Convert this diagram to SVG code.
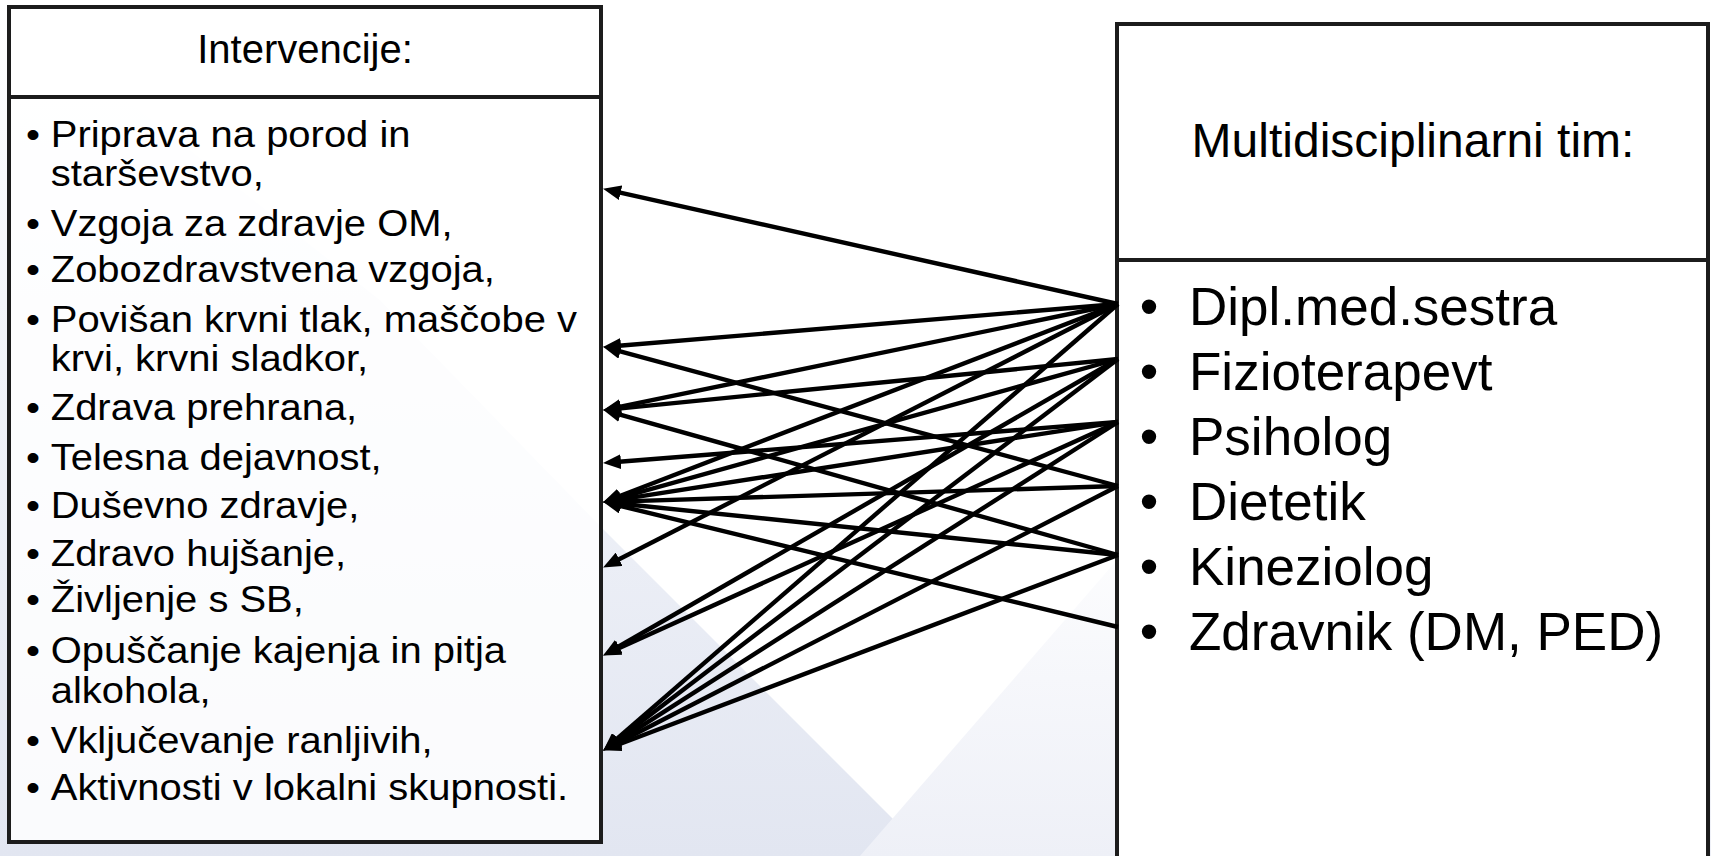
<svg xmlns="http://www.w3.org/2000/svg" width="1711" height="856" viewBox="0 0 1711 856">
<defs>
<linearGradient id="bgL" x1="0" y1="0" x2="0" y2="1">
<stop offset="0" stop-color="#ffffff"/>
<stop offset="0.35" stop-color="#f3f5fa"/>
<stop offset="1" stop-color="#e2e6f1"/>
</linearGradient>
<linearGradient id="bgR" x1="0" y1="0" x2="0" y2="1">
<stop offset="0" stop-color="#ffffff"/>
<stop offset="0.5" stop-color="#f6f7fb"/>
<stop offset="1" stop-color="#eef0f7"/>
</linearGradient>
<marker id="arr" viewBox="0 0 18 15" refX="5" refY="7.5" markerWidth="18" markerHeight="15" markerUnits="userSpaceOnUse" orient="auto">
<path d="M0,0 L18,7.5 L0,15 z" fill="#000"/>
</marker>
<style>
.box{fill:#ffffff;stroke:#1c1c1c;stroke-width:4}
.lbox{fill:#ffffff;fill-opacity:0.82;stroke:#1c1c1c;stroke-width:4}
.hd{font-family:"Liberation Sans",Arial,sans-serif;fill:#000}
.li{font-family:"Liberation Sans",Arial,sans-serif;font-size:37px;fill:#000}
.ri{font-family:"Liberation Sans",Arial,sans-serif;font-size:53px;fill:#000}
.cn line{stroke:#000;stroke-width:4.4;marker-end:url(#arr)}
</style>
</defs>
<rect x="0" y="0" width="1711" height="856" fill="#ffffff"/>
<polygon points="0,0 0,856 930,856 604,530 380,300" fill="url(#bgL)"/>
<polygon points="1711,500 1117,560 860,856 1711,856" fill="url(#bgR)"/>
<g id="intervencije">
<rect class="lbox" x="9" y="7" width="592" height="90"/>
<rect class="lbox" x="9" y="97" width="592" height="745"/>
<text class="hd" x="305" y="63" font-size="40" text-anchor="middle">Intervencije:</text>
<g transform="scale(1.08,1)">
<g class="li" text-anchor="middle">
<text x="30.5" y="147">•</text>
<text x="30.5" y="236">•</text>
<text x="30.5" y="282">•</text>
<text x="30.5" y="332">•</text>
<text x="30.5" y="420">•</text>
<text x="30.5" y="470">•</text>
<text x="30.5" y="518">•</text>
<text x="30.5" y="566">•</text>
<text x="30.5" y="612">•</text>
<text x="30.5" y="663">•</text>
<text x="30.5" y="753">•</text>
<text x="30.5" y="800">•</text>
</g>
<g class="li">
<text x="47" y="147">Priprava na porod in</text>
<text x="47" y="186">starševstvo,</text>
<text x="47" y="236">Vzgoja za zdravje OM,</text>
<text x="47" y="282">Zobozdravstvena vzgoja,</text>
<text x="47" y="332">Povišan krvni tlak, maščobe v</text>
<text x="47" y="371">krvi, krvni sladkor,</text>
<text x="47" y="420">Zdrava prehrana,</text>
<text x="47" y="470">Telesna dejavnost,</text>
<text x="47" y="518">Duševno zdravje,</text>
<text x="47" y="566">Zdravo hujšanje,</text>
<text x="47" y="612">Življenje s SB,</text>
<text x="47" y="663">Opuščanje kajenja in pitja</text>
<text x="47" y="703">alkohola,</text>
<text x="47" y="753">Vključevanje ranljivih,</text>
<text x="47" y="800">Aktivnosti v lokalni skupnosti.</text>
</g>
</g>
</g>
<g id="tim">
<rect class="box" x="1117" y="24" width="591" height="236"/>
<rect class="box" x="1117" y="260" width="591" height="620"/>
<text class="hd" x="1413" y="157" font-size="48" text-anchor="middle">Multidisciplinarni tim:</text>
<g class="ri" text-anchor="middle">
<text x="1149" y="325">•</text>
<text x="1149" y="390">•</text>
<text x="1149" y="455">•</text>
<text x="1149" y="520">•</text>
<text x="1149" y="585">•</text>
<text x="1149" y="650">•</text>
</g>
<g class="ri">
<text x="1189" y="325">Dipl.med.sestra</text>
<text x="1189" y="390">Fizioterapevt</text>
<text x="1189" y="455">Psiholog</text>
<text x="1189" y="520">Dietetik</text>
<text x="1189" y="585">Kineziolog</text>
<text x="1189" y="650">Zdravnik (DM, PED)</text>
</g>
</g>
<g id="connectors" class="cn">
<line x1="1118" y1="304" x2="615.71" y2="191.62"/>
<line x1="1118" y1="304" x2="615.96" y2="346.00"/>
<line x1="1118" y1="304" x2="615.75" y2="407.58"/>
<line x1="1118" y1="304" x2="615.20" y2="497.69"/>
<line x1="1118" y1="304" x2="614.68" y2="561.53"/>
<line x1="1118" y1="304" x2="613.06" y2="742.14"/>
<line x1="1118" y1="359" x2="615.94" y2="408.82"/>
<line x1="1118" y1="359" x2="615.56" y2="498.78"/>
<line x1="1118" y1="359" x2="614.40" y2="649.01"/>
<line x1="1118" y1="359" x2="613.55" y2="742.73"/>
<line x1="1118" y1="422" x2="615.96" y2="462.05"/>
<line x1="1118" y1="422" x2="615.86" y2="500.15"/>
<line x1="1118" y1="422" x2="614.93" y2="650.05"/>
<line x1="1118" y1="422" x2="614.12" y2="743.54"/>
<line x1="1118" y1="486" x2="615.58" y2="350.13"/>
<line x1="1118" y1="486" x2="615.99" y2="501.63"/>
<line x1="1118" y1="486" x2="614.68" y2="744.52"/>
<line x1="1118" y1="555" x2="615.55" y2="413.26"/>
<line x1="1118" y1="555" x2="615.94" y2="503.23"/>
<line x1="1118" y1="555" x2="615.22" y2="745.74"/>
<line x1="1118" y1="627" x2="615.66" y2="504.84"/>
</g>
</svg>
